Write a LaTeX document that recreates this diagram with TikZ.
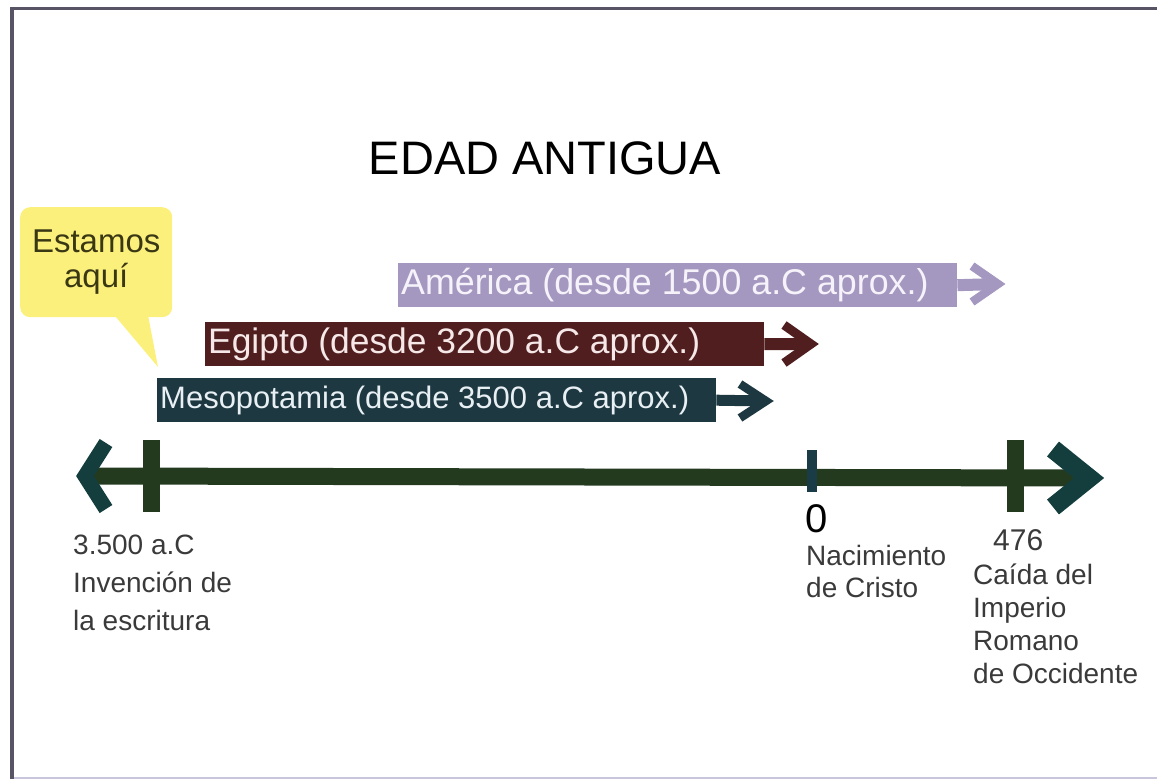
\documentclass[tikz,border=0pt]{standalone}
\usepackage{fontspec}
\setmainfont{Liberation Sans}
\usetikzlibrary{positioning}

\definecolor{frameGray}{RGB}{88,84,102}
\definecolor{frameLight}{RGB}{200,198,222}
\definecolor{noteYellow}{RGB}{252,240,124}
\definecolor{noteText}{RGB}{58,56,20}
\definecolor{lilac}{RGB}{165,152,192}
\definecolor{maroon}{RGB}{80,30,30}
\definecolor{slate}{RGB}{30,56,66}
\definecolor{lineGreen}{RGB}{36,58,30}
\definecolor{tipTeal}{RGB}{20,62,62}
\definecolor{zeroTeal}{RGB}{26,60,70}
\definecolor{lblGray}{RGB}{58,58,58}

\begin{document}
\begin{tikzpicture}[x=1pt,y=-1pt,
    bar/.style={anchor=north west, inner xsep=3pt, inner ysep=0pt,
      minimum height=44pt},
    tick/.style={fill=lineGreen, inner sep=0pt},
    lbl/.style={anchor=base west, inner sep=0pt, align=left, text=lblGray,
      font=\fontsize{28}{34}\selectfont}]
  \newcommand{\chev}[5]{\draw[#1, line width=#2] (#3) ++(#4,-#5) -- (#3) -- ++(#4,#5);}
  \newcommand{\bartext}[1]{\makebox[553pt][l]{#1}}
  \useasboundingbox (0,0) rectangle (1157,779);
  % frame
  \fill[frameGray] (10,7) rectangle (1157,10);
  \fill[frameGray] (10,7) rectangle (14,779);
  \draw[frameLight, line width=2pt] (14,778) -- (1157,778);

  \node[anchor=base, font=\fontsize{47}{50}\selectfont] (title) at (545,174) {EDAD ANTIGUA};

  % callout
  \node[fill=noteYellow, rounded corners=10pt, minimum width=152pt, minimum height=110pt,
    anchor=north west, align=center, text=noteText,
    font=\fontsize{33}{35}\selectfont] (note) at (20,207) {Estamos\\aquí};
  \coordinate (noteTip) at (158,367);
  \fill[noteYellow] (110,310) -- (noteTip) -- (147,310) -- cycle;

  % civilisations
  \node[bar, fill=lilac, text={rgb,255:red,246;green,242;blue,250},
    font=\fontsize{35.8}{38}\selectfont] (amer) at (398,263) {\bartext{América (desde 1500 a.C aprox.)}};
  \node[bar, fill=maroon, text={rgb,255:red,246;green,232;blue,232},
    font=\fontsize{35.4}{38}\selectfont] (egip) at (205,322) {\bartext{Egipto (desde 3200 a.C aprox.)}};
  \node[bar, fill=slate, text={rgb,255:red,232;green,240;blue,244},
    font=\fontsize{31}{34}\selectfont] (meso) at (157,378) {\bartext{Mesopotamia (desde 3500 a.C aprox.)}};
  \coordinate (amerTip) at (998,284);
  \coordinate (egipTip) at (811,344);
  \coordinate (mesoTip) at (766,401);
  \draw[lilac, line width=12pt, shorten >=6pt] (amer.east) -- (amerTip);
  \draw[maroon, line width=12pt, shorten >=6pt] (egip.east) -- (egipTip);
  \draw[slate, line width=11pt, shorten >=6pt] (meso.east) -- (mesoTip);
  \chev{lilac}{8.5pt}{amerTip}{-26}{18}
  \chev{maroon}{9pt}{egipTip}{-27}{19}
  \chev{slate}{8.5pt}{mesoTip}{-26}{17}

  % time line
  \coordinate (lineL) at (85,476);
  \coordinate (lineR) at (1089,478);
  \draw[lineGreen, line width=17pt] (lineL) -- (lineR);
  \node[tick, minimum width=17pt, minimum height=72pt] (t3500) at (151,476) {};
  \node[tick, fill=zeroTeal, minimum width=10pt, minimum height=42pt] (t0) at (812,471) {};
  \node[tick, minimum width=17pt, minimum height=72pt] (t476) at (1015,476) {};
  \chev{tipTeal}{15pt}{lineL}{21}{33}
  \chev{tipTeal}{19pt}{lineR}{-36}{29}

  % labels
  \node[lbl, font=\fontsize{28}{38}\selectfont] (l3500) at (73,630) {3.500 a.C\\Invención de\\la escritura};
  \node[lbl, text=black, font=\fontsize{40}{44}\selectfont] (l0) at (805,532) {0};
  \node[lbl, font=\fontsize{28}{32}\selectfont] (lnac) at (806,597) {Nacimiento\\de Cristo};
  \node[lbl, font=\fontsize{30}{34}\selectfont] (l476) at (993,550) {476};
  \node[lbl, font=\fontsize{28}{33}\selectfont] (lcaida) at (973,683) {Caída del\\Imperio\\Romano\\de Occidente};
\end{tikzpicture}
\end{document}
